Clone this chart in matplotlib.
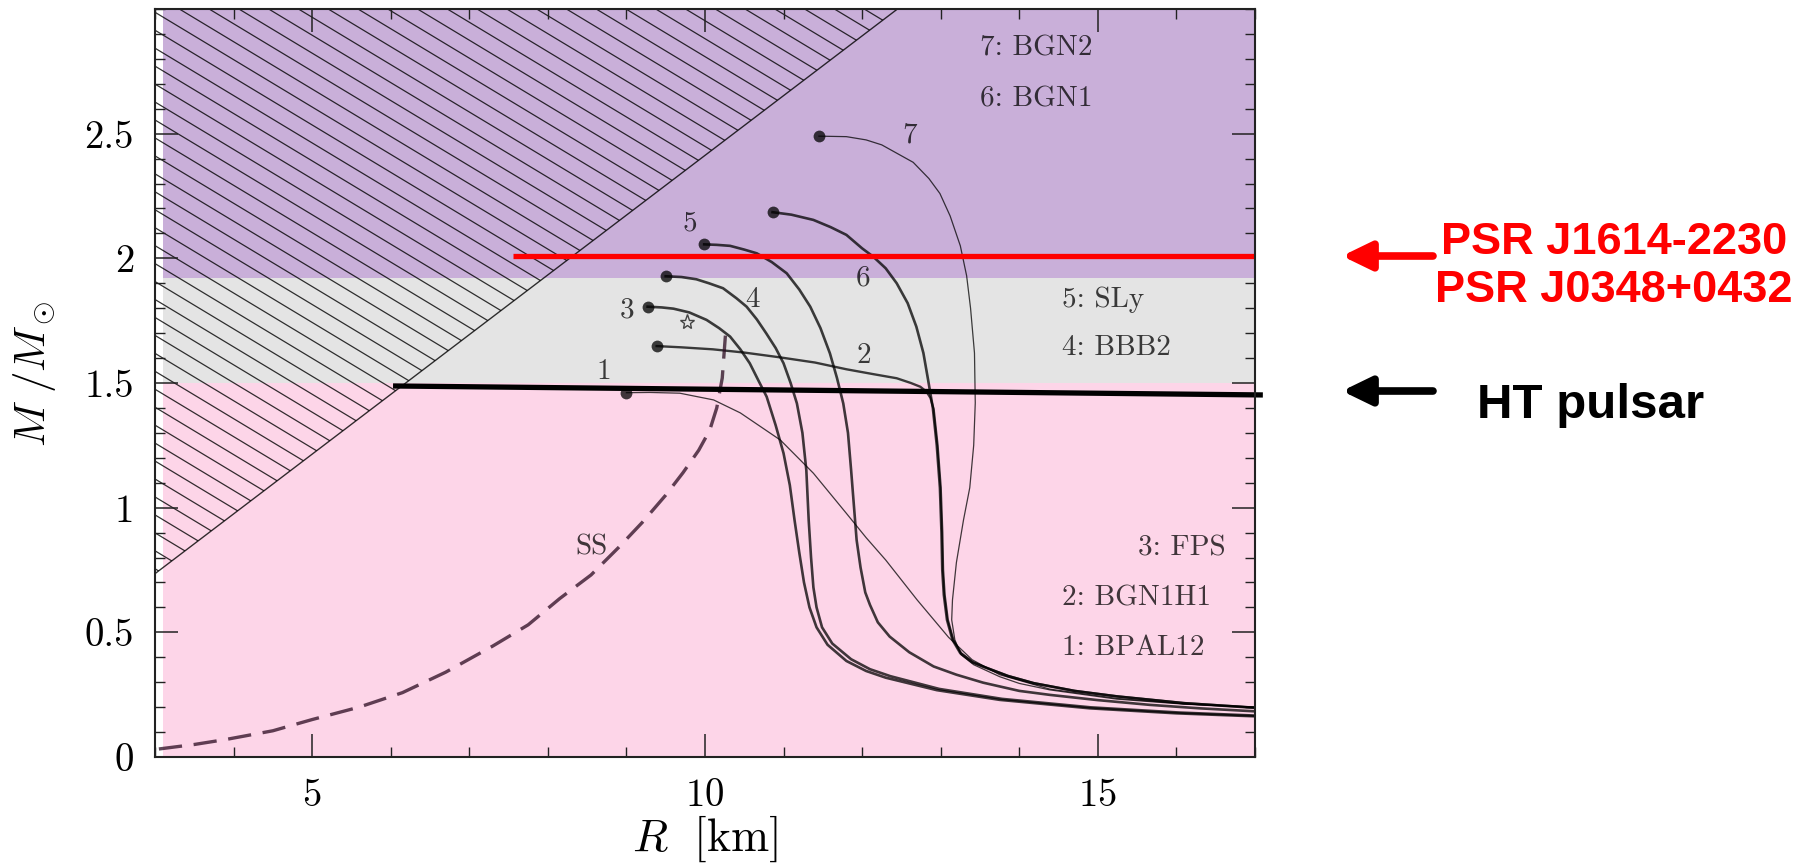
import numpy as np
import matplotlib
matplotlib.use("Agg")
import matplotlib.pyplot as plt
from matplotlib.patches import Polygon, Rectangle
from matplotlib.collections import LineCollection

plt.rcParams['mathtext.fontset'] = 'cm'
plt.rcParams['axes.formatter.use_mathtext'] = True

# ---- mass-radius relations (R in km, M in solar masses), starting at M_max ----
r_bpal12 = [9.00, 9.30, 9.68, 10.11, 10.45, 10.96, 11.38, 11.80, 12.05, 12.30, 12.70,
            13.10, 13.40, 13.75, 14.39, 15.24, 16.09, 17.0]
m_bpal12 = [1.461, 1.462, 1.459, 1.432, 1.380, 1.271, 1.138, 0.977, 0.88, 0.79, 0.63,
            0.48, 0.39, 0.33, 0.272, 0.235, 0.213, 0.200]

r_bgn1h1 = [9.385, 9.70, 10.10, 10.50, 10.95, 11.40, 11.80, 12.15, 12.44, 12.62, 12.74,
            12.82, 12.87, 12.91, 12.96, 13.00, 13.02, 13.03, 13.05, 13.09, 13.16, 13.26,
            13.41, 13.55, 13.86, 14.19, 14.71, 15.25, 16.10, 17.0]
m_bgn1h1 = [1.648, 1.643, 1.635, 1.622, 1.603, 1.582, 1.555, 1.535, 1.519, 1.500, 1.485,
            1.465, 1.440, 1.395, 1.25, 1.08, 0.90, 0.75, 0.65, 0.55, 0.47, 0.416,
            0.38, 0.362, 0.325, 0.296, 0.265, 0.243, 0.216, 0.198]

r_fps = [9.27, 9.45, 9.60, 9.80, 10.02, 10.18, 10.32, 10.45, 10.57, 10.68, 10.785, 10.90,
         11.00, 11.08, 11.14, 11.20, 11.26, 11.33, 11.42, 11.56, 11.80, 12.05, 12.30,
         12.95, 13.75, 14.90, 16.00, 17.0]
m_fps = [1.806, 1.803, 1.798, 1.783, 1.753, 1.72, 1.686, 1.635, 1.579, 1.51, 1.445, 1.33,
         1.218, 1.09, 0.95, 0.82, 0.70, 0.60, 0.52, 0.45, 0.385, 0.345, 0.318,
         0.268, 0.229, 0.195, 0.175, 0.163]

r_bbb2 = [9.50, 9.70, 9.89, 10.05, 10.23, 10.40, 10.53, 10.66, 10.78, 10.90, 11.00, 11.09,
          11.17, 11.24, 11.29, 11.32, 11.35, 11.38, 11.42, 11.49, 11.62, 11.86, 12.10,
          12.36, 12.98, 13.78, 14.91, 16.05, 17.0]
m_bbb2 = [1.928, 1.925, 1.916, 1.90, 1.88, 1.84, 1.806, 1.755, 1.699, 1.64, 1.579, 1.50,
          1.418, 1.30, 1.15, 0.95, 0.80, 0.68, 0.60, 0.52, 0.455, 0.392, 0.352,
          0.324, 0.273, 0.233, 0.199, 0.178, 0.166]

r_sly = [9.99, 10.15, 10.32, 10.50, 10.66, 10.85, 11.04, 11.20, 11.34, 11.47, 11.59, 11.68,
         11.76, 11.82, 11.86, 11.89, 11.93, 11.98, 12.04, 12.10, 12.20, 12.35, 12.60,
         12.91, 13.20, 13.54, 14.00, 14.39, 15.00, 15.66, 16.30, 17.0]
m_sly = [2.056, 2.054, 2.05, 2.035, 2.02, 1.985, 1.94, 1.875, 1.806, 1.72, 1.619, 1.52,
         1.418, 1.30, 1.15, 1.03, 0.87, 0.76, 0.66, 0.61, 0.54, 0.483, 0.42,
         0.363, 0.33, 0.298, 0.265, 0.249, 0.228, 0.209, 0.195, 0.183]

r_bgn1 = [10.86, 11.10, 11.38, 11.60, 11.80, 12.00, 12.14, 12.30, 12.44, 12.58, 12.69, 12.78,
          12.84, 12.90, 12.95, 12.99, 13.01, 13.02, 13.04, 13.08, 13.15, 13.25, 13.40,
          13.54, 13.85, 14.18, 14.70, 15.24, 16.09, 17.0]
m_bgn1 = [2.185, 2.175, 2.154, 2.125, 2.094, 2.04, 2.007, 1.96, 1.90, 1.82, 1.726, 1.62,
          1.512, 1.40, 1.25, 1.08, 0.90, 0.75, 0.65, 0.55, 0.47, 0.416, 0.38,
          0.362, 0.325, 0.296, 0.265, 0.243, 0.216, 0.197]

r_bgn2 = [11.45, 11.80, 12.05, 12.25, 12.45, 12.65, 12.85, 12.99, 13.12, 13.25, 13.33, 13.38,
          13.43, 13.44, 13.42, 13.37, 13.29, 13.20, 13.15, 13.14, 13.18, 13.26, 13.42,
          13.75, 14.00, 14.39, 15.24, 16.09, 17.0]
m_bgn2 = [2.49, 2.488, 2.475, 2.455, 2.42, 2.385, 2.32, 2.26, 2.17, 2.05, 1.93, 1.80,
          1.62, 1.42, 1.25, 1.08, 0.95, 0.78, 0.63, 0.55, 0.47, 0.41, 0.37,
          0.322, 0.295, 0.269, 0.232, 0.212, 0.199]

# strange quark star branch
r_ss = [3.05, 3.5, 3.9, 4.5, 5.0, 5.6, 6.15, 6.7, 7.3, 7.75, 8.15, 8.55, 8.9, 9.2, 9.5,
        9.72, 9.92, 10.06, 10.15, 10.22, 10.26]
m_ss = [0.032, 0.05, 0.07, 0.105, 0.15, 0.2, 0.258, 0.34, 0.445, 0.53, 0.635, 0.73, 0.84,
        0.94, 1.05, 1.14, 1.23, 1.31, 1.40, 1.52, 1.69]

star_r, star_m = 9.77, 1.746

# causality limit (region above it is forbidden)
causal_r = [3.0, 12.45]
causal_m = [0.735, 3.0]

# mass bands
band_edges = [0.0, 1.5, 1.92, 3.0]
band_colors = ['#fdd5e8', '#e4e4e4', '#c9afd9']

# measured pulsar masses
psr_r = [7.56, 17.0]
psr_m = [2.01, 2.01]
ht_r = [6.03, 17.1]
ht_m = [1.488, 1.452]

x_ticks = [5, 10, 15]
y_ticks = [0, 0.5, 1, 1.5, 2, 2.5]
y_tick_labels = ['0', '0.5', '1', '1.5', '2', '2.5']

curves = [
    ('1', 'BPAL12', r_bpal12, m_bpal12, 0.9, (8.71, 1.545)),
    ('2', 'BGN1H1', r_bgn1h1, m_bgn1h1, 1.7, (12.02, 1.608)),
    ('3', 'FPS', r_fps, m_fps, 1.9, (9.01, 1.79)),
    ('4', 'BBB2', r_bbb2, m_bbb2, 1.9, (10.60, 1.833)),
    ('5', 'SLy', r_sly, m_sly, 1.9, (9.81, 2.14)),
    ('6', 'BGN1', r_bgn1, m_bgn1, 1.9, (12.01, 1.92)),
    ('7', 'BGN2', r_bgn2, m_bgn2, 0.9, (12.61, 2.495)),
]
# where the EOS names are listed inside the panel
name_pos = {'7': (13.50, 2.843), '6': (13.50, 2.638), '5': (14.54, 1.833),
            '4': (14.54, 1.64), '3': (15.51, 0.838), '2': (14.54, 0.638),
            '1': (14.54, 0.437)}

ink = dict(color='k', alpha=0.75)
serif = 'cmr10'

fig = plt.figure(figsize=(18.06, 8.65), dpi=100)
ax = fig.add_axes([0.0858, 0.1249, 0.6091, 0.8647])
ax.set_xlim(3, 17)
ax.set_ylim(0, 3)

# coloured mass bands (leave a thin white strip along the left frame)
for lo, hi, col in zip(band_edges[:-1], band_edges[1:], band_colors):
    ax.add_patch(Rectangle((3.1, lo), 17 - 3.1, hi - lo, facecolor=col,
                           edgecolor='none', zorder=0))

# hatched causality region
tri = Polygon([(causal_r[0], causal_m[0]), (causal_r[1], causal_m[1]), (3.0, 3.0)],
              closed=True, fill=False, edgecolor='none')
ax.add_patch(tri)
hatch_slope = -0.19
hatch_step = 0.072
offsets = np.arange(causal_m[0] + 0.02, 3.0 - hatch_slope * 14, hatch_step)
segs = [[(3.0, c), (17.0, c + hatch_slope * 14)] for c in offsets]
lc = LineCollection(segs, colors='k', linewidths=0.9, alpha=0.8, zorder=1)
ax.add_collection(lc)
lc.set_clip_path(tri)
ax.plot(causal_r, causal_m, color='k', lw=1.0, alpha=0.8, zorder=1)

# mass-radius curves with the maximum-mass points
for num, name, r, m, lw, lab in curves:
    ax.plot(r, m, lw=lw, zorder=2, **ink)
    ax.plot(r[0], m[0], 'o', ms=8.5, mec='none', zorder=3, **ink)
    ax.text(lab[0], lab[1], num, fontsize=21, family=serif, ha='center', va='center', **ink)
    nx, ny = name_pos[num]
    ax.text(nx, ny, f'{num}: {name}', fontsize=21, family=serif, ha='left', va='center', **ink)

ax.plot(r_ss, m_ss, lw=2.4, dashes=(7, 3.5), color='#2a0a20', alpha=0.75, zorder=2)
ax.text(8.55, 0.84, 'SS', fontsize=21, family=serif, ha='center', va='center', **ink)
ax.plot(star_r, star_m, marker='*', ms=11, mfc='none', mec='k', mew=1.0, alpha=0.7, zorder=3)

# observed masses
ax.plot(psr_r, psr_m, color='#ff0000', lw=3.8, solid_capstyle='butt', zorder=5, clip_on=False)
ax.plot(ht_r, ht_m, color='k', lw=3.8, solid_capstyle='butt', zorder=5, clip_on=False)

ax.set_xticks(x_ticks)
ax.set_xticks(np.arange(3, 18, 1), minor=True)
ax.set_yticks(y_ticks)
ax.set_yticklabels(y_tick_labels)
ax.set_yticks(np.arange(0, 3.01, 0.1), minor=True)
ax.tick_params(which='both', direction='in', top=True, right=True, color='#222222')
ax.tick_params(which='major', length=16.5, width=1.1, labelsize=28, pad=15)
ax.tick_params(which='minor', length=7.5, width=1.0)
for lbl in ax.get_xticklabels() + ax.get_yticklabels():
    lbl.set_family(serif)
for sp in ax.spines.values():
    sp.set_linewidth(1.5)
    sp.set_color('#222222')
    sp.set_zorder(6)

ax.set_xlabel(r'$R\ \ [\mathrm{km}]$', fontsize=33)
ax.set_ylabel(r'$M\ /M_\odot$', fontsize=31)
ax.xaxis.set_label_coords(0.5, -0.076)
ax.yaxis.set_label_coords(-0.088, 0.512)

# annotations to the right of the panel
arrow_style = '-|>,head_length=0.7,head_width=0.34'
ax.annotate('', xy=(1342, 865 - 256), xytext=(1433, 865 - 256), xycoords='figure pixels',
            arrowprops=dict(arrowstyle=arrow_style, lw=5.5, color='#ff0000',
                            mutation_scale=25, shrinkA=0, shrinkB=0))
ax.annotate('', xy=(1342, 865 - 391), xytext=(1433, 865 - 391), xycoords='figure pixels',
            arrowprops=dict(arrowstyle=arrow_style, lw=5.5, color='k',
                            mutation_scale=25, shrinkA=0, shrinkB=0))
sans = 'Liberation Sans'
fig.text(1614 / 1806, 1 - 254 / 865, 'PSR J1614-2230', fontsize=32.5, family=sans,
         weight='bold', color='#ff0000', ha='center', va='baseline')
fig.text(1614 / 1806, 1 - 302 / 865, 'PSR J0348+0432', fontsize=32.5, family=sans,
         weight='bold', color='#ff0000', ha='center', va='baseline')
fig.text(1477 / 1806, 1 - 418 / 865, 'HT pulsar', fontsize=35.5, family=sans,
         weight='bold', color='k', ha='left', va='baseline')

fig.savefig('out.png', dpi=100, facecolor='white')
